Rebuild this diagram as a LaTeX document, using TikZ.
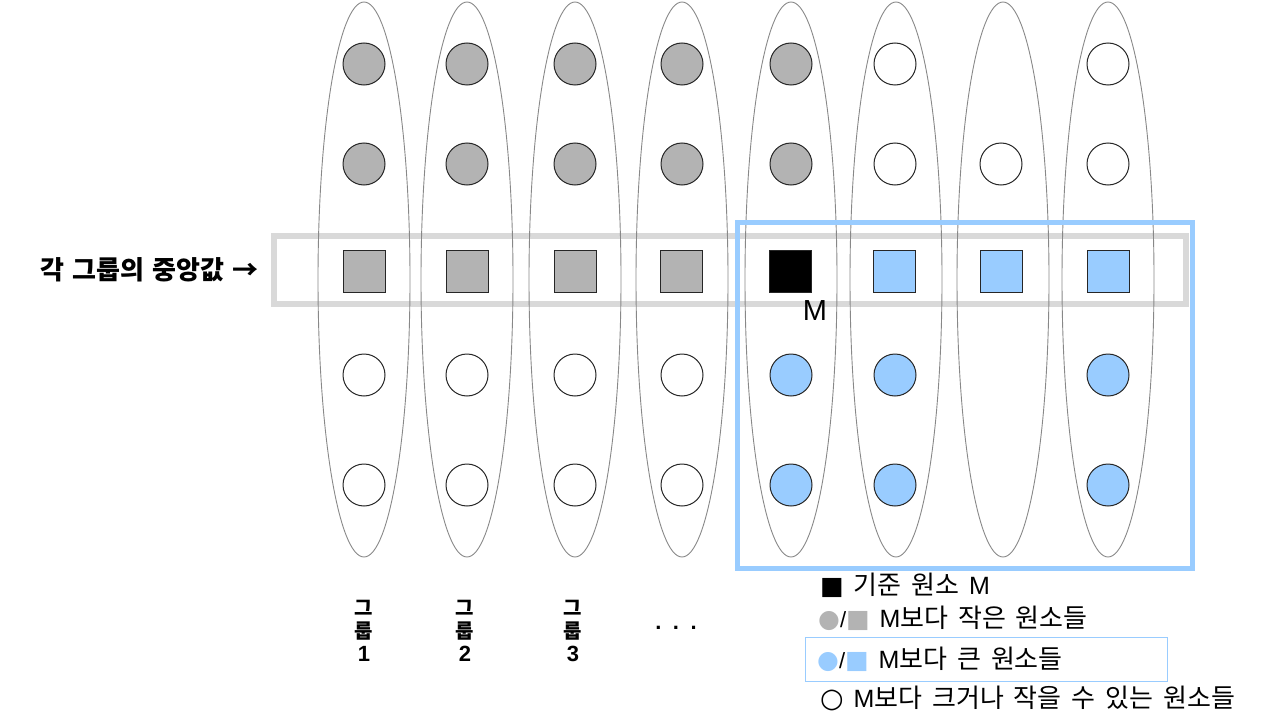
\documentclass[tikz,border=0pt]{standalone}
\usepackage{fontspec}
\setmainfont{Noto Sans CJK KR}[WordSpace=1.7]
\newfontfamily\lblfont{Noto Sans CJK KR}[WordSpace=1.4]
\newfontfamily\symfont{DejaVu Sans}
\newfontfamily\lat{Liberation Sans}
\usetikzlibrary{shapes.geometric}
\definecolor{smallgray}{HTML}{B3B3B3}
\definecolor{bigblue}{HTML}{99CCFF}
\definecolor{bandgray}{HTML}{D9D9D9}
\definecolor{ellgray}{HTML}{888888}
\tikzset{
  grp/.style={ellipse, draw=ellgray, line width=0.9pt, minimum width=92pt, minimum height=555pt, inner sep=0pt},
  elem/.style={circle, draw=black!85, line width=1pt, minimum size=42pt, inner sep=0pt},
  med/.style={rectangle, draw=black!85, line width=1pt, minimum size=42pt, inner sep=0pt},
  grayel/.style={fill=smallgray},
  blueel/.style={fill=bigblue},
  whiteel/.style={fill=white},
  legtxt/.style={anchor=base west, font=\fontsize{26}{28}\selectfont, inner sep=0pt},
  grplbl/.style={font=\bfseries\fontsize{20}{23}\selectfont, align=center, inner sep=0pt}
}
\newcommand{\symA}[2]{{\symfont\fontsize{#1}{20}\selectfont #2}}
\newcommand{\latM}{{\lat\fontsize{25}{26}\selectfont M}}
\newcommand{\latS}{{\lat\fontsize{22}{24}\selectfont /}}
\begin{document}
\begin{tikzpicture}[x=1pt,y=-1pt]
\useasboundingbox (0,0) rectangle (1280,725);
% median band
\node[draw=bandgray, line width=6pt, minimum width=912pt, minimum height=68pt, inner sep=0pt] (band) at (729.5,270) {};
% groups
\foreach \i/\x in {1/364,2/467,3/575,4/682,5/791,6/896,7/1003,8/1108}{
  \node[grp] (e\i) at (\x,279.5) {};
}
% larger region
\node[draw=bigblue, line width=5pt, minimum width=455pt, minimum height=346pt, inner sep=0pt] (big) at (965,395) {};
% elements
\foreach \i/\x/\a/\b/\d/\e in {1/364/grayel/grayel/whiteel/whiteel,2/467/grayel/grayel/whiteel/whiteel,3/575/grayel/grayel/whiteel/whiteel,4/682/grayel/grayel/whiteel/whiteel,5/791/grayel/grayel/blueel/blueel,6/895/whiteel/whiteel/blueel/blueel,8/1108/whiteel/whiteel/blueel/blueel}{
  \node[elem,\a] (c\i a) at (\x,64) {};
  \node[elem,\b] (c\i b) at (\x,164) {};
  \node[elem,\d] (c\i d) at (\x,375) {};
  \node[elem,\e] (c\i e) at (\x,485) {};
}
\node[elem,whiteel] (c7b) at (1001,164) {};
\foreach \i/\x/\f in {1/364/smallgray,2/467/smallgray,3/575/smallgray,4/681/smallgray,5/790/black,6/894/bigblue,7/1001/bigblue,8/1108/bigblue}{
  \node[med, fill=\f] (s\i) at (\x,271) {};
}
\node[font=\lat\fontsize{29}{30}\selectfont, inner sep=0pt] (mlbl) at (815,311) {M};
% left label
\node[anchor=base east, font=\lblfont\bfseries\fontsize{26}{28}\selectfont, inner sep=0pt] (medlbl) at (259,279) {각 그룹의 중앙값 →};
% group labels
\node[grplbl] (g1) at (364,631) {그\\룹\\{\lat\fontsize{22}{23}\selectfont 1}};
\node[grplbl] (g2) at (465,631) {그\\룹\\{\lat\fontsize{22}{23}\selectfont 2}};
\node[grplbl] (g3) at (573,631) {그\\룹\\{\lat\fontsize{22}{23}\selectfont 3}};
\node[font=\lat\bfseries\fontsize{22}{24}\selectfont, inner sep=0pt] (dots) at (676,628) {.\kern11.5pt.\kern11.5pt.};
% legend
\node[legtxt] (l1) at (820,594) {\symA{25}{■} 기준 원소 \latM};
\node[legtxt] (l2) at (818,627) {\symA{25}{\textcolor{smallgray}{●}}\latS\symA{25}{\textcolor{smallgray}{■}} \latM 보다 작은 원소들};
\node[draw=bigblue, line width=1pt, minimum width=362pt, minimum height=44pt, inner sep=0pt] (legbox) at (986,659) {};
\node[legtxt] (l3) at (817,668) {\symA{25}{\textcolor{bigblue}{●}}\latS\symA{25}{\textcolor{bigblue}{■}} \latM 보다 큰 원소들};
\node[legtxt] (l4) at (820,707) {\symA{27}{○} \latM 보다 크거나 작을 수 있는 원소들};
\end{tikzpicture}
\end{document}
